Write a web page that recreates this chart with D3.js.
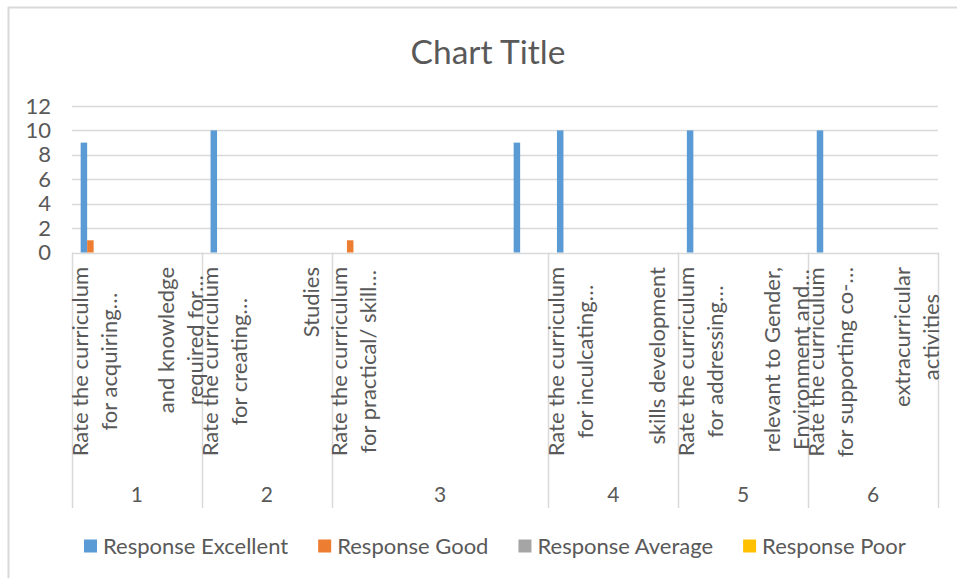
<!DOCTYPE html>
<html>
<head>
<meta charset="utf-8">
<script src="https://cdn.jsdelivr.net/npm/d3@7/dist/d3.min.js"></script>
<style>
  html, body { margin: 0; padding: 0; background: #ffffff; }
  svg { display: block; }
  text { font-family: Lato, "Open Sans", sans-serif; fill: #595959; }
</style>
</head>
<body>
<svg id="chart" width="957" height="578"></svg>
<script>
// ---------------- DATA ----------------
const chartTitle = "Chart Title";
const groups = ["1", "2", "3", "4", "5", "6"];
// group index of each inner row (20 rows)
const rowGroup = [0,0,0, 1,1,1, 2,2,2,2,2, 3,3,3, 4,4,4, 5,5,5];
// inner category labels (lines as shown, wrapped)
const rowLabels = [
  ["Rate the curriculum", "for acquiring…"],
  [],
  ["and knowledge", "required for…"],
  ["Rate the curriculum", "for creating…"],
  [],
  ["Studies"],
  ["Rate the curriculum", "for practical/ skill…"],
  [], [], [], [],
  ["Rate the curriculum", "for inculcating…"],
  [],
  ["skills development"],
  ["Rate the curriculum", "for addressing…"],
  [],
  ["relevant to Gender,", "Environment and…"],
  ["Rate the curriculum", "for supporting co-…"],
  [],
  ["extracurricular", "activities"]
];
const seriesNames = ["Response Excellent", "Response Good", "Response Average", "Response Poor"];
const seriesColors = ["#5B9BD5", "#ED7D31", "#A5A5A5", "#FFC000"];
const excellent = [9,null,null, 10,null,null, null,null,null,null,9, 10,null,null, 10,null,null, 10,null,null];
const good      = [1,null,null, null,null,null, 1,null,null,null,null, null,null,null, null,null,null, null,null,null];
const average   = [null,null,null, null,null,null, null,null,null,null,null, null,null,null, null,null,null, null,null,null];
const poor      = [null,null,null, null,null,null, null,null,null,null,null, null,null,null, null,null,null, null,null,null];
const seriesValues = [excellent, good, average, poor];
const yTicks = [0, 2, 4, 6, 8, 10, 12];

// ---------------- LAYOUT ----------------
const svg = d3.select("#chart");
const plot = { left: 72, right: 938, top: 106, bottom: 252.5 };
const labelTop = 267;
const lineGap = 29;
const sepBottom = 508;

// chart border
svg.append("rect")
  .attr("x", 8.5).attr("y", 7.5)
  .attr("width", 960).attr("height", 600)
  .attr("fill", "#fff").attr("stroke", "#d9d9d9").attr("stroke-width", 2);

// title
svg.append("text")
  .attr("x", 488).attr("y", 64)
  .attr("text-anchor", "middle")
  .style("font-size", "33.5px")
  .text(chartTitle);

const rowIdx = d3.range(rowGroup.length);
const x = d3.scaleBand().domain(rowIdx).range([plot.left, plot.right]).paddingInner(0).paddingOuter(0);
const x1 = d3.scaleBand().domain(d3.range(seriesNames.length)).range([0, x.bandwidth()]).paddingInner(0).paddingOuter(1.33);
const y = d3.scaleLinear().domain([0, 12]).range([plot.bottom, plot.top]);

// gridlines
svg.append("g").selectAll("line").data(yTicks).join("line")
  .attr("x1", plot.left).attr("x2", plot.right)
  .attr("y1", d => Math.round(y(d)) + 0.5).attr("y2", d => Math.round(y(d)) + 0.5)
  .attr("stroke", "#d9d9d9").attr("stroke-width", 1.5);

// y axis labels
const yAxis = d3.axisLeft(y).tickValues(yTicks).tickSize(0).tickPadding(21);
const yg = svg.append("g").attr("transform", `translate(${plot.left},0)`).call(yAxis);
yg.select(".domain").remove();
yg.selectAll("text").style("font-size", "22px").attr("fill", "#595959").style("font-family", "Lato, 'Open Sans', sans-serif");

// bars
seriesValues.forEach((vals, si) => {
  svg.append("g").selectAll("rect")
    .data(rowIdx.filter(i => vals[i] != null && vals[i] > 0))
    .join("rect")
    .attr("x", i => x(i) + x1(si))
    .attr("width", x1.bandwidth())
    .attr("y", i => y(vals[i]))
    .attr("height", i => y(0) - y(vals[i]))
    .attr("fill", seriesColors[si]);
});

// group boundaries
const groupStarts = groups.map((g, gi) => rowIdx.find(i => rowGroup[i] === gi));
const groupEnds = groups.map((g, gi) => { const r = rowIdx.filter(i => rowGroup[i] === gi); return r[r.length - 1]; });
const boundaries = groupStarts.map(i => x(i)).concat([x(rowIdx[rowIdx.length - 1]) + x.bandwidth()]);
svg.append("g").selectAll("line").data(boundaries).join("line")
  .attr("x1", d => Math.round(d) + 0.5).attr("x2", d => Math.round(d) + 0.5)
  .attr("y1", plot.bottom).attr("y2", sepBottom)
  .attr("stroke", "#d9d9d9").attr("stroke-width", 1.5);

// inner category labels
const labelG = svg.append("g");
rowLabels.forEach((lines, i) => {
  if (!lines.length) return;
  const cx = x(i) + x.bandwidth() / 2;
  const texts = lines.map((ln, li) => labelG.append("text")
    .attr("text-anchor", "middle")
    .attr("dominant-baseline", "central")
    .style("font-size", "22px")
    .text(ln));
  const maxLen = d3.max(texts, t => t.node().getComputedTextLength());
  const cy = labelTop + maxLen / 2;
  texts.forEach((t, li) => {
    const lx = cx + (li - (lines.length - 1) / 2) * lineGap;
    t.attr("transform", `translate(${lx},${cy}) rotate(-90)`);
  });
});

// group labels
svg.append("g").selectAll("text").data(groups).join("text")
  .attr("x", (g, gi) => (x(groupStarts[gi]) + x(groupEnds[gi]) + x.bandwidth()) / 2)
  .attr("y", 502)
  .attr("text-anchor", "middle")
  .style("font-size", "21px")
  .text(d => d);

// legend
const legend = svg.append("g");
let lx = 84;
seriesNames.forEach((name, si) => {
  legend.append("rect").attr("x", lx).attr("y", 539.5).attr("width", 13).attr("height", 13).attr("fill", seriesColors[si]);
  const t = legend.append("text").attr("x", lx + 19).attr("y", 553.5).style("font-size", "22px").text(name);
  lx += 19 + t.node().getComputedTextLength() + 30;
});
</script>
</body>
</html>
